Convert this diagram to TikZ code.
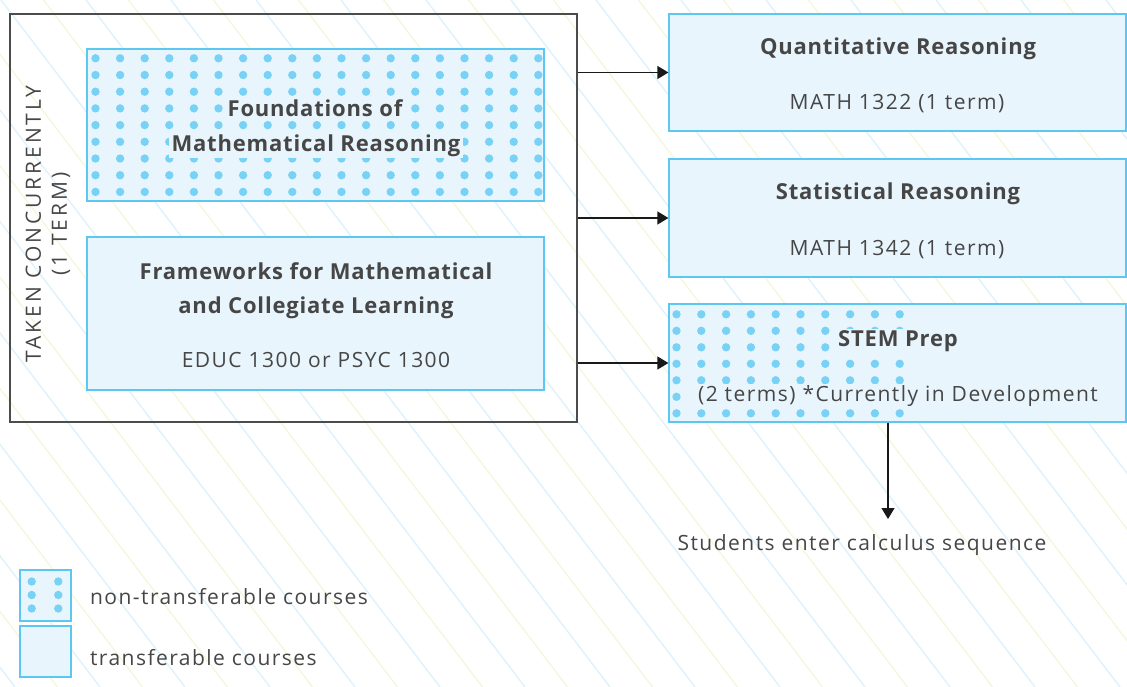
\documentclass[tikz,border=0pt]{standalone}
\usepackage{fontspec}
\setmainfont{Open Sans}
\usetikzlibrary{arrows.meta}
\definecolor{boxfill}{HTML}{E9F5FC}
\definecolor{boxline}{HTML}{5CC8F2}
\definecolor{dotblue}{HTML}{78D2F6}
\definecolor{ink}{HTML}{464646}
\definecolor{stripeblue}{HTML}{DDF2FC}
\definecolor{stripeyellow}{HTML}{F4F7DC}
\tikzset{
    course/.style={draw=boxline,fill=boxfill,line width=1.2pt,inner sep=0},
    title/.style={font=\bfseries\fontsize{22}{26}\selectfont\addfontfeature{LetterSpace=3.7},text=ink,anchor=base},
    body/.style={font=\fontsize{21}{25}\selectfont\addfontfeature{LetterSpace=7},text=ink,anchor=base},
    cover/.style={fill=boxfill,inner xsep=3pt,inner ysep=1pt},
    dot/.style={fill=dotblue,draw=none},
    link/.style={draw=black!90,line width=1.2pt,-{Triangle[length=11pt,width=13pt]}}
}

\begin{document}
\begin{tikzpicture}[x=1pt,y=-1pt]
    \useasboundingbox (0,0) rectangle (1127,687);
    \begin{scope}
        \clip (0,0) rectangle (1127,687);
        \foreach \k in {-8,...,14} {
            \draw[stripeblue,line width=1.4pt] (1+85*\k,0) -- ++(524,687);
            \draw[stripeyellow,line width=1.4pt] (43.5+85*\k,0) -- ++(524,687);
        }
    \end{scope}

    \node[draw=black!70,line width=1.4pt,minimum width=567pt,minimum height=408pt] (outer) at (293.5,218) {};
    \node[course,minimum width=457pt,minimum height=152pt] (found) at (315.5,125) {};
    \node[course,minimum width=457pt,minimum height=153pt] (frame) at (315.5,313.5) {};
    \node[course,minimum width=457pt,minimum height=117pt] (quant) at (897.5,72.5) {};
    \node[course,minimum width=457pt,minimum height=118pt] (stat) at (897.5,218) {};
    \node[course,minimum width=457pt,minimum height=118pt] (stem) at (897.5,363) {};
    \node[course,minimum width=51pt,minimum height=51pt] (keydot) at (45.5,595.5) {};
    \node[course,minimum width=51pt,minimum height=51pt] (keyplain) at (45.5,651.5) {};

    \foreach \i in {0,...,18}
        \foreach \j in {0,...,8}
            \fill[dot] (95.5+24.6*\i,58.3+16.7*\j) circle (4.2pt);
    \foreach \i in {0,...,9}
        \foreach \j in {0,...,6}
            \fill[dot] (676.5+24.8*\i,314.3+16.5*\j) circle (4.2pt);
    \foreach \i in {31.7,58.3}
        \foreach \j in {581.5,595,608.5}
            \fill[dot] (\i,\j) circle (4.2pt);

    \node[title,cover] (foundtxta) at (315,116.7) {Foundations of};
    \node[title,cover] (foundtxtb) at (316,151.7) {Mathematical Reasoning};
    \node[title] (frametxta) at (316,279) {Frameworks for Mathematical};
    \node[title] (frametxtb) at (316,313) {and Collegiate Learning};
    \node[body] (framecode) at (316,367) {EDUC 1300 or PSYC 1300};
    \node[title] (quanttxt) at (898,55) {Quantitative Reasoning};
    \node[body] (quantcode) at (897,110) {MATH 1322 (1 term)};
    \node[title] (stattxt) at (898,200) {Statistical Reasoning};
    \node[body] (statcode) at (897,255) {MATH 1342 (1 term)};
    \node[title,cover] (stemtxt) at (898,346) {STEM Prep};
    \node[body,cover] (stemcode) at (898,401) {(2 terms) *Currently in Development};
    \node[rotate=90,align=center,text=ink,font=\fontsize{21}{26}\selectfont\addfontfeature{LetterSpace=14}] (side) at (48,224) {TAKEN CONCURRENTLY\\(1 TERM)};
    \node[body] (calc) at (862,550) {Students enter calculus sequence};
    \node[body,anchor=base west] (keydottxt) at (86.5,604) {non-transferable courses};
    \node[body,anchor=base west] (keyplaintxt) at (86.5,665) {transferable courses};

    \coordinate (calctop) at (888,519);
    \draw[link] (outer.east |- quant.west) -- (quant.west);
    \draw[link] (outer.east |- stat.west) -- (stat.west);
    \draw[link] (outer.east |- stem.west) -- (stem.west);
    \draw[link] (stem.south -| calctop) -- (calctop);
\end{tikzpicture}
\end{document}
